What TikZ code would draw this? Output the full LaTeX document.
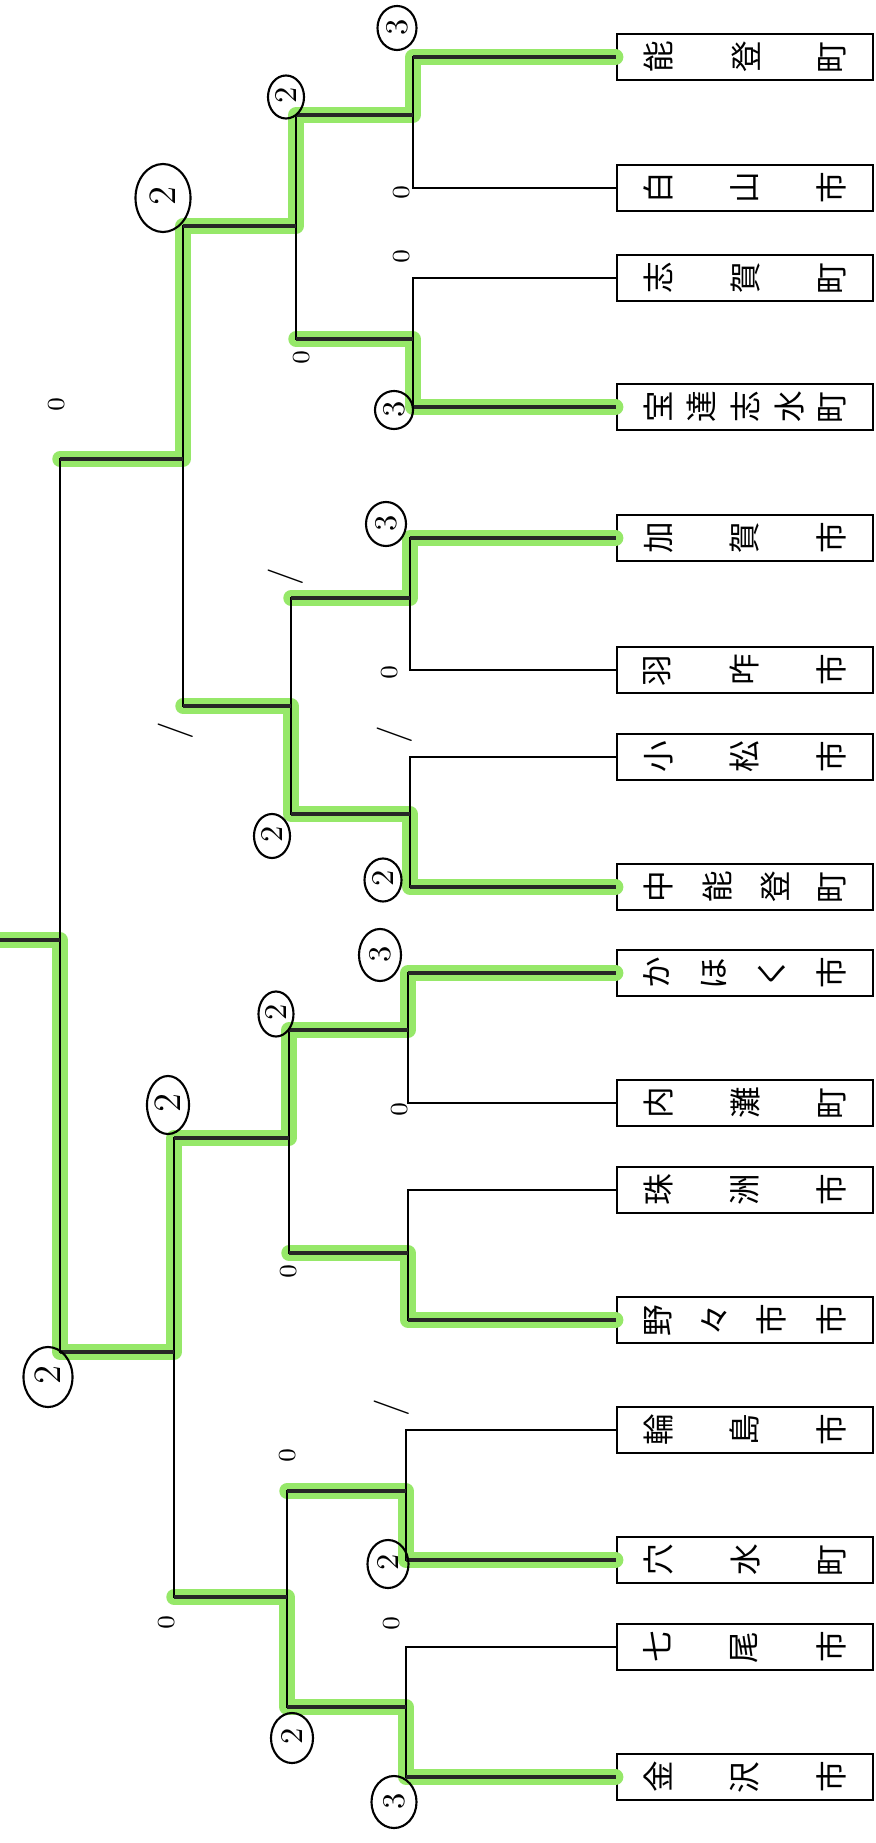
\documentclass[tikz,border=0pt]{standalone}
\usepackage{fontspec}
\usepackage{graphicx}
\newfontfamily\jpfont{Noto Sans CJK JP}
\usetikzlibrary{shapes.geometric}
\definecolor{hilite}{RGB}{150,232,105}
\newcommand{\rc}[1]{\rotatebox[origin=c]{90}{#1}}
\newlength{\namew}\setlength{\namew}{2.02cm}
\newcommand{\cityname}[1]{\makebox[\namew][s]{#1}}
\tikzset{
  city/.style={draw, rectangle, line width=0.7pt, minimum width=2.56cm, minimum height=0.46cm,
    inner xsep=0.27cm, inner ysep=0pt, font=\jpfont\fontsize{9}{9}\selectfont},
  bracket/.style={line width=0.6pt},
  win/.style={line width=1.3pt, black!85},
  hl/.style={hilite, line width=4.4pt, line cap=round, line join=round},
  score/.style={ellipse, draw, line width=0.6pt, inner sep=0pt, font=\fontsize{9}{9}\selectfont},
  tally/.style={rotate=90, inner sep=0pt, font=\fontsize{7}{7}\selectfont},
  slash/.style={rotate=90, inner sep=0pt, font=\fontsize{10}{10}\selectfont}
}
\begin{document}
\begin{tikzpicture}[x=0.01cm, y=-0.01cm]
\useasboundingbox (0,0) rectangle (875,1843);
% entrants
\node[city] (noto) at (745,57) {\cityname{\rc{能}\hfill\rc{登}\hfill\rc{町}}};
\node[city] (hakusan) at (745,188) {\cityname{\rc{白}\hfill\rc{山}\hfill\rc{市}}};
\node[city] (shika) at (745,278) {\cityname{\rc{志}\hfill\rc{賀}\hfill\rc{町}}};
\node[city] (hodatsu) at (745,407) {\cityname{\rc{宝}\hfill\rc{達}\hfill\rc{志}\hfill\rc{水}\hfill\rc{町}}};
\node[city] (kaga) at (745,538) {\cityname{\rc{加}\hfill\rc{賀}\hfill\rc{市}}};
\node[city] (hakui) at (745,670) {\cityname{\rc{羽}\hfill\rc{咋}\hfill\rc{市}}};
\node[city] (komatsu) at (745,757) {\cityname{\rc{小}\hfill\rc{松}\hfill\rc{市}}};
\node[city] (nakanoto) at (745,887) {\cityname{\rc{中}\hfill\rc{能}\hfill\rc{登}\hfill\rc{町}}};
\node[city] (kahoku) at (745,973) {\cityname{\rc{か}\hfill\rc{ほ}\hfill\rc{く}\hfill\rc{市}}};
\node[city] (uchinada) at (745,1103) {\cityname{\rc{内}\hfill\rc{灘}\hfill\rc{町}}};
\node[city] (suzu) at (745,1190) {\cityname{\rc{珠}\hfill\rc{洲}\hfill\rc{市}}};
\node[city] (nonoichi) at (745,1320) {\cityname{\rc{野}\hfill\rc{々}\hfill\rc{市}\hfill\rc{市}}};
\node[city] (wajima) at (745,1430) {\cityname{\rc{輪}\hfill\rc{島}\hfill\rc{市}}};
\node[city] (anamizu) at (745,1560) {\cityname{\rc{穴}\hfill\rc{水}\hfill\rc{町}}};
\node[city] (nanao) at (745,1647) {\cityname{\rc{七}\hfill\rc{尾}\hfill\rc{市}}};
\node[city] (kanazawa) at (745,1777) {\cityname{\rc{金}\hfill\rc{沢}\hfill\rc{市}}};
% junctions
\coordinate (p1) at (413,115);
\coordinate (p2) at (413,339);
\coordinate (p3) at (410,598);
\coordinate (p4) at (410,814);
\coordinate (p5) at (408,1030);
\coordinate (p6) at (408,1253);
\coordinate (p7) at (406,1491);
\coordinate (p8) at (406,1707);
\coordinate (q1) at (296,226);
\coordinate (q2) at (291,706);
\coordinate (q3) at (289,1138);
\coordinate (q4) at (287,1597);
\coordinate (s1) at (183,459);
\coordinate (s2) at (174,1352);
\coordinate (fin) at (60,940);
\coordinate (stub) at (0,940);
% highlighter
\draw[hl] (noto.west) -| (p1) -| (q1) -| (s1) -- (s1 -| fin);
\draw[hl] (hodatsu.west) -| (p2) -- (p2 -| q1);
\draw[hl] (kaga.west) -| (p3) -- (p3 -| q2);
\draw[hl] (nakanoto.west) -| (p4) -| (q2) -- (q2 -| s1);
\draw[hl] (kahoku.west) -| (p5) -| (q3) -| (s2) -| (fin) -- (stub);
\draw[hl] (nonoichi.west) -| (p6) -- (p6 -| q3);
\draw[hl] (anamizu.west) -| (p7) -- (p7 -| q4);
\draw[hl] (kanazawa.west) -| (p8) -| (q4) -- (q4 -| s2);
% bracket
\draw[bracket] (noto.west) -| (p1) |- (hakusan.west);
\draw[bracket] (shika.west) -| (p2) |- (hodatsu.west);
\draw[bracket] (kaga.west) -| (p3) |- (hakui.west);
\draw[bracket] (komatsu.west) -| (p4) |- (nakanoto.west);
\draw[bracket] (kahoku.west) -| (p5) |- (uchinada.west);
\draw[bracket] (suzu.west) -| (p6) |- (nonoichi.west);
\draw[bracket] (wajima.west) -| (p7) |- (anamizu.west);
\draw[bracket] (nanao.west) -| (p8) |- (kanazawa.west);
\draw[bracket] (p1) -| (q1) |- (p2);
\draw[bracket] (p3) -| (q2) |- (p4);
\draw[bracket] (p5) -| (q3) |- (p6);
\draw[bracket] (p7) -| (q4) |- (p8);
\draw[bracket] (q1) -| (s1) |- (q2);
\draw[bracket] (q3) -| (s2) |- (q4);
\draw[bracket] (s1) -| (fin) |- (s2);
\draw[bracket] (fin) -- (stub);
% pencil traces of the winners
\draw[win] (noto.west) -- (noto.west -| p1) (p1) -- (p1 -| q1) (q1) -- (q1 -| s1) (s1) -- (s1 -| fin);
\draw[win] (hodatsu.west) -- (hodatsu.west -| p2) (p2) -- (p2 -| q1);
\draw[win] (kaga.west) -- (kaga.west -| p3) (p3) -- (p3 -| q2);
\draw[win] (nakanoto.west) -- (nakanoto.west -| p4) (p4) -- (p4 -| q2) (q2) -- (q2 -| s1);
\draw[win] (kahoku.west) -- (kahoku.west -| p5) (p5) -- (p5 -| q3) (q3) -- (q3 -| s2) (s2) -- (s2 -| fin) (fin) -- (stub);
\draw[win] (nonoichi.west) -- (nonoichi.west -| p6) (p6) -- (p6 -| q3);
\draw[win] (anamizu.west) -- (anamizu.west -| p7) (p7) -- (p7 -| q4);
\draw[win] (kanazawa.west) -- (kanazawa.west -| p8) (p8) -- (p8 -| q4) (q4) -- (q4 -| s2);
% circled scores
\node[score, minimum width=0.39cm, minimum height=0.44cm] (sc1) at (397,28) {\rc{3}};
\node[score, minimum width=0.36cm, minimum height=0.43cm] (sc2) at (286,97) {\rc{2}};
\node[score, minimum width=0.55cm, minimum height=0.68cm, font=\fontsize{11}{11}\selectfont] (sc3) at (163,198) {\rc{2}};
\node[score, minimum width=0.38cm, minimum height=0.38cm] (sc4) at (394,410) {\rc{3}};
\node[score, minimum width=0.40cm, minimum height=0.44cm] (sc5) at (386,524) {\rc{3}};
\node[score, minimum width=0.36cm, minimum height=0.44cm] (sc6) at (272,836) {\rc{2}};
\node[score, minimum width=0.37cm, minimum height=0.43cm] (sc7) at (383,880) {\rc{2}};
\node[score, minimum width=0.42cm, minimum height=0.52cm] (sc8) at (380,955) {\rc{3}};
\node[score, minimum width=0.35cm, minimum height=0.45cm] (sc9) at (276,1014) {\rc{2}};
\node[score, minimum width=0.42cm, minimum height=0.58cm, font=\fontsize{11}{11}\selectfont] (sc10) at (168,1105) {\rc{2}};
\node[score, minimum width=0.49cm, minimum height=0.60cm, font=\fontsize{11}{11}\selectfont] (sc11) at (48,1377) {\rc{2}};
\node[score, minimum width=0.41cm, minimum height=0.48cm] (sc12) at (388,1564) {\rc{2}};
\node[score, minimum width=0.42cm, minimum height=0.50cm] (sc13) at (292,1738) {\rc{2}};
\node[score, minimum width=0.45cm, minimum height=0.52cm] (sc14) at (394,1802) {\rc{3}};
% losing scores
\node[tally] (z1) at (402,193) {0};
\node[tally] (z2) at (402,257) {0};
\node[tally] (z3) at (302,357) {0};
\node[tally] (z4) at (57,404) {0};
\node[tally] (z5) at (390,672) {0};
\node[tally] (z6) at (400,1109) {0};
\node[tally] (z7) at (289,1271) {0};
\node[tally] (z8) at (288,1455) {0};
\node[tally] (z9) at (167,1622) {0};
\node[tally] (z10) at (392,1623) {0};
\node[slash] (o1) at (286,577) {/};
\node[slash] (o2) at (176,731) {/};
\node[slash] (o3) at (395,735) {/};
\node[slash] (o4) at (392,1408) {/};
\end{tikzpicture}
\end{document}
